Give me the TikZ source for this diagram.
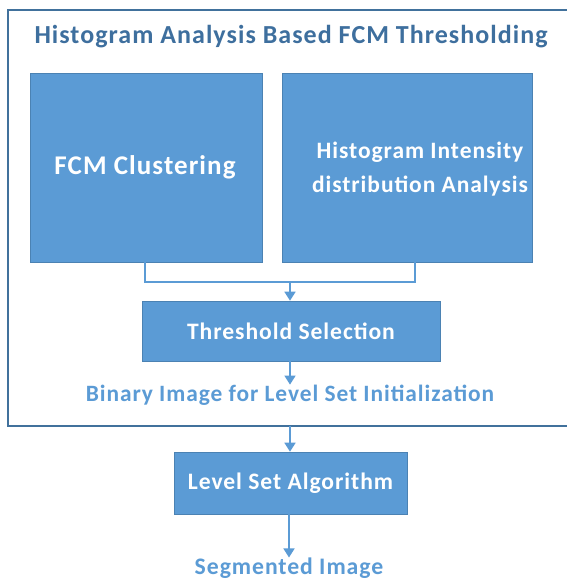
\documentclass[tikz,border=0pt]{standalone}
\usepackage{fontspec}
\setmainfont{Carlito}[LetterSpace=4]
\usetikzlibrary{arrows.meta}
\definecolor{boxblue}{HTML}{5B9BD5}
\definecolor{edgeblue}{HTML}{41719C}
\definecolor{titleblue}{HTML}{3E6F9E}
\definecolor{labblue}{HTML}{5B9BD5}
\newcommand{\fsz}[1]{\fontsize{#1}{#1}\selectfont}
\begin{document}
\begin{tikzpicture}[x=1pt,y=-1pt,
  procbox/.style={draw=edgeblue!60!boxblue,line width=0.6pt,fill=boxblue,text=white,font=\bfseries,align=center,inner sep=0pt},
  conn/.style={draw=boxblue,line width=1.6pt},
  arr/.style={conn,-{Triangle[length=9pt,width=11pt]}},
  lab/.style={text=labblue,font=\bfseries\fsz{23.4},inner sep=0pt}]
\useasboundingbox (0,0) rectangle (567,582);
\fill[white] (0,0) rectangle (567,582);
% outer frame
\draw[edgeblue,line width=1.2pt] (570,426) -- (8,426) -- (8,10) -- (570,10);
\node[text=titleblue,font=\bfseries\fsz{26},inner sep=0pt] (title) at (291,37) {Histogram Analysis Based FCM Thresholding};
% boxes
\node[procbox,minimum width=232pt,minimum height=189pt] (fcm) at (146,167.5) {};
\node[text=white,font=\bfseries\fsz{27},inner sep=0pt] (fcmt) at (145,167) {FCM Clustering};
\node[procbox,minimum width=250pt,minimum height=189pt] (hist) at (407,167.5) {};
\node[text=white,font=\bfseries\fontsize{23.5}{34}\selectfont,align=center,inner sep=0pt] (histt) at (420,169) {Histogram Intensity\\distribution Analysis};
\node[procbox,minimum width=298pt,minimum height=60pt,font=\bfseries\fsz{23.6}] (thr) at (291,331) {Threshold Selection};
\node[lab] (bin) at (290,395) {Binary Image for Level Set Initialization};
\node[procbox,minimum width=233pt,minimum height=62pt,font=\bfseries\fsz{23.6}] (lsa) at (290.5,483) {Level Set Algorithm};
\node[lab,font=\bfseries\fsz{23.7}] (seg) at (289,568) {Segmented Image};
% connectors
\coordinate (j) at (290,282);
\draw[conn] (fcm.south -| 145,0) |- (j);
\draw[conn] (hist.south -| 415,0) |- (j);
\draw[arr] (j) -- (thr.north -| j);
\draw[arr] (thr.south -| bin.north) -- (bin.north);
\coordinate (fb) at (290,426);
\draw[arr] (fb) -- (lsa.north -| fb);
\draw[arr] (lsa.south -| seg.north) -- (seg.north);
\end{tikzpicture}
\end{document}
